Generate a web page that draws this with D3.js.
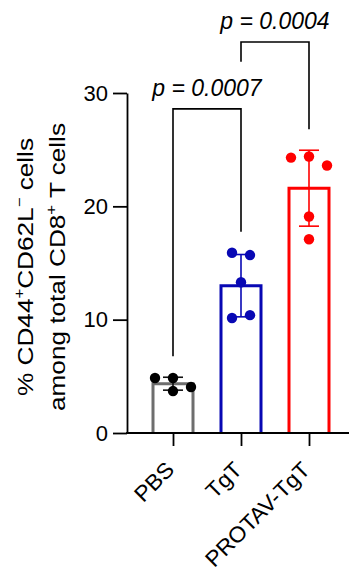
<!DOCTYPE html>
<html>
<head>
<meta charset="utf-8">
<script src="https://cdn.jsdelivr.net/npm/d3@7"></script>
<style>
  html, body { margin: 0; padding: 0; background: #fff; }
  svg { display: block; font-family: "Liberation Sans", Arial, sans-serif; }
</style>
</head>
<body>
<svg id="chart" width="349" height="575"></svg>
<script>
// groups and values
const groups = ['PBS', 'TgT', 'PROTAV-TgT'];
const pbsValues = [4.85, 4.85, 4.06, 3.7];
const tgtValues = [15.9, 15.7, 13.3, 10.15, 10.4];
const protavValues = [24.3, 24.4, 23.6, 19.1, 17.1];
const means = [4.35, 13.0, 21.6];
const sds = [0.57, 2.75, 3.35];
const yTicks = [0, 10, 20, 30];
const colors = ['#6e6e6e', '#0808b4', '#ff0000'];
const dotColors = ['#000000', '#0808b4', '#ff0000'];
const comparisons = [
  {a: 'PBS', b: 'TgT', label: 'p = 0.0007', level: 28.6},
  {a: 'TgT', b: 'PROTAV-TgT', label: 'p = 0.0004', level: 34.5}
];

const svg = d3.select('svg#chart');
const margin = {left: 127, top: 93, bottom: 433};
const r = 5.2;

const y = d3.scaleLinear().domain([0, 30]).range([margin.bottom, margin.top]);
const x = d3.scalePoint().domain(groups).range([139, 343]).padding(0.5);
const barW = 40;

const data = groups.map((g, i) => ({
  name: g,
  values: [pbsValues, tgtValues, protavValues][i],
  mean: means[i],
  sd: sds[i],
  color: colors[i],
  dot: dotColors[i]
}));

// bars (open at the bottom)
svg.append('g').selectAll('path')
  .data(data)
  .join('path')
  .attr('d', d => {
    const p = d3.path();
    const x0 = x(d.name) - barW / 2, x1 = x(d.name) + barW / 2;
    p.moveTo(x0, y(0));
    p.lineTo(x0, y(d.mean));
    p.lineTo(x1, y(d.mean));
    p.lineTo(x1, y(0));
    return p.toString();
  })
  .attr('fill', '#fff')
  .attr('stroke', d => d.color)
  .attr('stroke-width', 3);

// error bars
const eb = svg.append('g').selectAll('g')
  .data(data)
  .join('g')
  .attr('stroke', (d, i) => i === 0 ? '#111' : d.color)
  .attr('stroke-width', 1.6);
eb.append('line')
  .attr('x1', d => x(d.name)).attr('x2', d => x(d.name))
  .attr('y1', d => y(d.mean + d.sd)).attr('y2', d => y(d.mean - d.sd));
eb.selectAll('line.cap')
  .data(d => [{d, v: d.mean + d.sd}, {d, v: d.mean - d.sd}])
  .join('line')
  .attr('class', 'cap')
  .attr('x1', c => x(c.d.name) - 10).attr('x2', c => x(c.d.name) + 10)
  .attr('y1', c => y(c.v)).attr('y2', c => y(c.v));

// scatter points, spread sideways in rows where they would overlap
const spacing = 18;
function spread(values) {
  const items = values.map((v, i) => ({v, i, py: y(v)}));
  const sorted = items.slice().sort((a, b) => a.py - b.py);
  const rows = [];
  sorted.forEach(it => {
    const row = rows[rows.length - 1];
    if (row && it.py - row[0].py < 2 * r) row.push(it);
    else rows.push([it]);
  });
  rows.forEach(row => {
    row.sort((a, b) => a.i - b.i);
    row.forEach((it, k) => { it.off = (k - (row.length - 1) / 2) * spacing; });
  });
  return items;
}
data.forEach(d => {
  svg.append('g').selectAll('circle')
    .data(spread(d.values))
    .join('circle')
    .attr('cx', p => x(d.name) + p.off)
    .attr('cy', p => p.py)
    .attr('r', r)
    .attr('fill', d.dot);
});

// y axis
const yAxis = svg.append('g')
  .attr('transform', `translate(${margin.left},0)`)
  .call(d3.axisLeft(y).tickValues(yTicks).tickSize(14).tickSizeOuter(0).tickPadding(5));
yAxis.selectAll('path, line').attr('stroke', '#000').attr('stroke-width', 1.8);
yAxis.selectAll('text').attr('font-size', 22).attr('font-family', 'Liberation Sans, Arial, sans-serif').attr('fill', '#000');

// x axis
svg.append('line')
  .attr('x1', margin.left - 0.9).attr('x2', 349)
  .attr('y1', y(0)).attr('y2', y(0))
  .attr('stroke', '#000').attr('stroke-width', 1.8);
const xAxis = svg.append('g')
  .attr('transform', `translate(0,${y(0)})`)
  .call(d3.axisBottom(x).tickSize(13).tickSizeOuter(0));
xAxis.select('.domain').remove();
xAxis.selectAll('line').attr('stroke', '#000').attr('stroke-width', 1.8);
xAxis.selectAll('text')
  .attr('x', 0).attr('y', 0).attr('dy', 0)
  .attr('transform', 'translate(2,38) rotate(-45) scale(1.04,1)')
  .attr('text-anchor', 'end')
  .attr('font-size', 22)
  .attr('font-family', 'Liberation Sans, Arial, sans-serif')
  .attr('fill', '#000');

// y axis title (two lines, with superscripts)
const titleLines = [
  [['% CD44', 0], ['+', 1], ['CD62L', 0], ['\u2212', 1], [' cells', 0]],
  [['among total CD8', 0], ['+', 1], [' T cells', 0]]
];
titleLines.forEach((parts, li) => {
  const t = svg.append('text')
    .attr('transform', `translate(${33 + li * 32},267) rotate(-90) scale(1.19,1)`)
    .attr('text-anchor', 'middle')
    .attr('font-size', 22)
    .attr('fill', '#000');
  let raised = false;
  parts.forEach(([s, sup]) => {
    const ts = t.append('tspan').text(s);
    if (sup && !raised) { ts.attr('dy', -9).attr('font-size', 14); raised = true; }
    else if (sup) { ts.attr('font-size', 14); }
    else if (raised) { ts.attr('dy', 9); raised = false; }
  });
});

// significance brackets
function topOf(name) {
  const d = data.find(e => e.name === name);
  return y(Math.max(d3.max(d.values), d.mean + d.sd)) - 21;
}
const br = svg.append('g');
const labelBottom = {};
comparisons.forEach(c => {
  const yl = y(c.level);
  const legA = labelBottom[c.a] !== undefined ? labelBottom[c.a] : topOf(c.a);
  const legB = labelBottom[c.b] !== undefined ? labelBottom[c.b] : topOf(c.b);
  const p = d3.path();
  p.moveTo(x(c.a), legA);
  p.lineTo(x(c.a), yl);
  p.lineTo(x(c.b), yl);
  p.lineTo(x(c.b), legB);
  br.append('path')
    .attr('d', p.toString())
    .attr('fill', 'none')
    .attr('stroke', '#000')
    .attr('stroke-width', 1.6);
  br.append('text')
    .attr('x', (x(c.a) + x(c.b)) / 2)
    .attr('y', yl - 13)
    .attr('text-anchor', 'middle')
    .attr('font-size', 23)
    .attr('font-style', 'italic')
    .attr('fill', '#000')
    .text(c.label);
  // columns under this label get shorter legs in later brackets
  [c.a, c.b].forEach(g => { labelBottom[g] = yl - 47; });
});
</script>
</body>
</html>
